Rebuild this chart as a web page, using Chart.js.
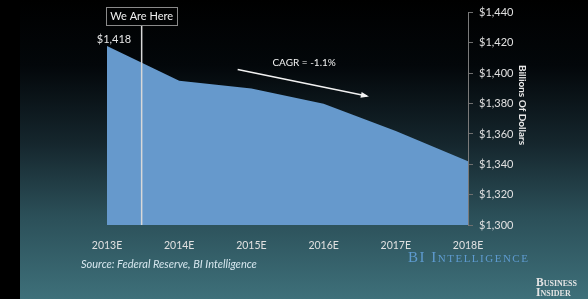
<!DOCTYPE html>
<html>
<head>
<meta charset="utf-8">
<script src="https://cdn.jsdelivr.net/npm/chart.js@4/dist/chart.umd.min.js"></script>
<style>
  html, body { margin: 0; padding: 0; }
  body {
    width: 588px; height: 299px; overflow: hidden; position: relative;
    background: linear-gradient(to bottom, #000 0%, #03070a 22%, #15262d 48%, #2b4f58 72%, #3e707a 100%);
  }
  #strip { position: absolute; left: 0; top: 0; width: 20px; height: 299px; background: #000; }
  #wrap { position: absolute; left: 0; top: 0; width: 588px; height: 299px; }
</style>
</head>
<body>
<div id="strip"></div>
<div id="wrap"><canvas id="chart"></canvas></div>
<script>
// data
const years = ['2013E', '2014E', '2015E', '2016E', '2017E', '2018E'];
const spending = [1418, 1395, 1390, 1380, 1362, 1342];
const yTicks = [1300, 1320, 1340, 1360, 1380, 1400, 1420, 1440];
const weAreHere = 0.48; // position between 2013E and 2014E
const cagrText = 'CAGR = -1.1%';

const labelFont = 'Lato, "Open Sans", sans-serif';
const serifFont = '"Liberation Serif", "DejaVu Serif", serif';

const money = v => '$' + v.toLocaleString('en-US');

// annotations drawn over the chart
const overlay = {
    id: 'overlay',
    afterDatasetsDraw(chart) {
        const ctx = chart.ctx;
        const x = chart.scales.x;
        const y = chart.scales.y;
        const area = chart.chartArea;
        ctx.save();

        // "We Are Here" line and box
        const hx = x.getPixelForValue(weAreHere);
        ctx.strokeStyle = '#d8d8d8';
        ctx.lineWidth = 1.5;
        ctx.beginPath();
        ctx.moveTo(hx, 25);
        ctx.lineTo(hx, area.bottom);
        ctx.stroke();
        ctx.strokeStyle = '#8a8a8a';
        ctx.lineWidth = 1;
        ctx.strokeRect(106.5, 7.5, 71, 18);
        ctx.fillStyle = '#f0f0f0';
        ctx.font = '11px ' + labelFont;
        ctx.textAlign = 'center';
        ctx.textBaseline = 'middle';
        ctx.fillText('We Are Here', hx, 16.5);

        // first value label
        const p0 = chart.getDatasetMeta(0).data[0];
        ctx.fillStyle = '#e6e6e6';
        ctx.fillText(money(spending[0]), p0.x + 7, p0.y - 7);

        // CAGR arrow
        const ax1 = x.getPixelForValue(1.81), ay1 = y.getPixelForValue(1402.5);
        const ax2 = x.getPixelForValue(3.6), ay2 = y.getPixelForValue(1385);
        ctx.strokeStyle = '#f2f2f2';
        ctx.fillStyle = '#f2f2f2';
        ctx.lineWidth = 1.5;
        ctx.beginPath();
        ctx.moveTo(ax1, ay1);
        ctx.lineTo(ax2, ay2);
        ctx.stroke();
        const ang = Math.atan2(ay2 - ay1, ax2 - ax1);
        ctx.beginPath();
        ctx.moveTo(ax2 + 2, ay2 + 2 * Math.tan(ang));
        ctx.lineTo(ax2 - 6 * Math.cos(ang) + 3 * Math.sin(ang), ay2 - 6 * Math.sin(ang) - 3 * Math.cos(ang));
        ctx.lineTo(ax2 - 6 * Math.cos(ang) - 3 * Math.sin(ang), ay2 - 6 * Math.sin(ang) + 3 * Math.cos(ang));
        ctx.closePath();
        ctx.fill();
        ctx.font = '10px ' + labelFont;
        ctx.fillText(cagrText, x.getPixelForValue(2.73), y.getPixelForValue(1407));

        // y axis title
        ctx.save();
        ctx.translate(522, 105);
        ctx.rotate(Math.PI / 2);
        ctx.font = 'bold 10px ' + labelFont;
        ctx.fillStyle = '#e8e8e8';
        ctx.fillText('Billions Of Dollars', 0, 0);
        ctx.restore();

        // source
        ctx.textAlign = 'left';
        ctx.font = 'italic 11px ' + labelFont;
        ctx.fillStyle = '#d6e6ee';
        ctx.fillText('Source: Federal Reserve, BI Intelligence', 81, 264);

        // BI Intelligence
        ctx.fillStyle = '#5e9bd0';
        ctx.font = '15px ' + serifFont;
        ctx.fontVariantCaps = 'small-caps';
        ctx.letterSpacing = '1.5px';
        ctx.fillText('BI Intelligence', 408, 258);

        // Business Insider
        ctx.fillStyle = '#e4e4e4';
        ctx.font = 'bold 11.5px ' + serifFont;
        ctx.fontVariantCaps = 'small-caps';
        ctx.letterSpacing = '0px';
        ctx.fillText('Business', 536, 283);
        ctx.fillText('Insider', 536, 293);
        ctx.restore();
    }
};

new Chart(document.getElementById('chart'), {
    type: 'line',
    data: {
        labels: years,
        datasets: [{
            data: spending,
            fill: 'start',
            backgroundColor: '#6699cc',
            borderColor: '#6699cc',
            borderWidth: 0,
            pointRadius: 0,
            tension: 0
        }]
    },
    options: {
        responsive: true,
        maintainAspectRatio: false,
        animation: false,
        layout: { padding: { left: 107, top: 10, right: 0, bottom: 0 } },
        plugins: {
            legend: { display: false },
            tooltip: { enabled: false }
        },
        scales: {
            x: {
                offset: false,
                grid: { display: false },
                border: { display: false },
                ticks: {
                    color: '#e0e0e0',
                    font: { family: labelFont, size: 10.5 },
                    padding: 6,
                    maxRotation: 0
                },
                afterFit(scale) { scale.height = 74; }
            },
            y: {
                position: 'right',
                min: 1300,
                max: 1440,
                afterBuildTicks(scale) { scale.ticks = yTicks.map(v => ({ value: v })); },
                grid: { drawOnChartArea: false, color: '#6f6f6f', tickLength: 5 },
                border: { color: '#7a7a7a' },
                ticks: {
                    color: '#e0e0e0',
                    font: { family: labelFont, size: 11 },
                    padding: 6,
                    callback: v => money(v)
                },
                afterFit(scale) { scale.width = 120; }
            }
        }
    },
    plugins: [overlay]
});
</script>
</body>
</html>
